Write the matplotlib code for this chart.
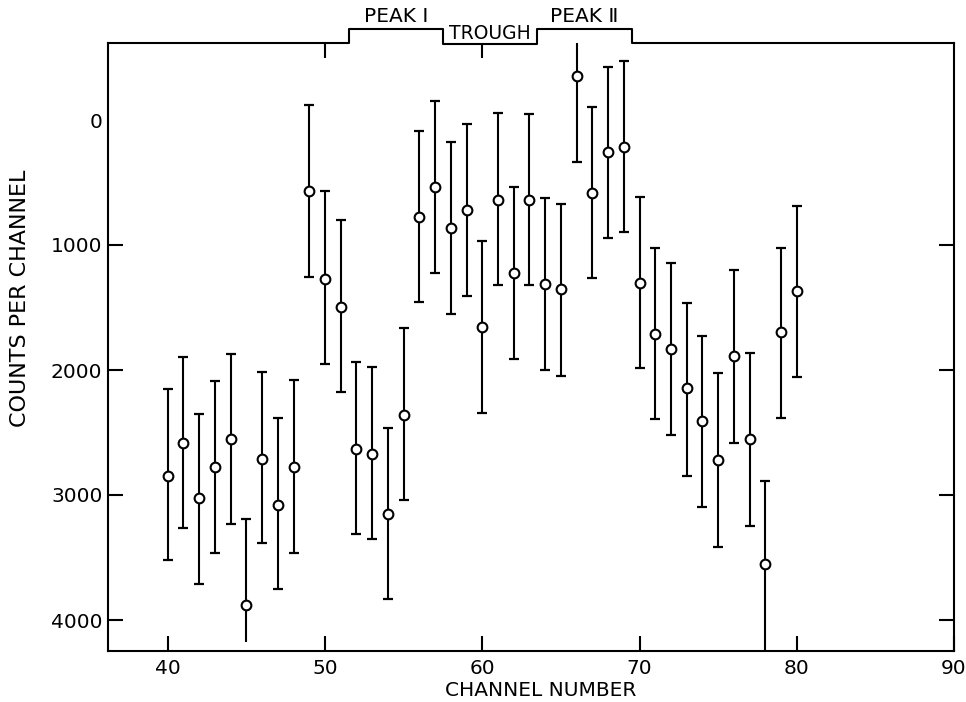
import matplotlib
matplotlib.use("Agg")
import matplotlib.pyplot as plt
import matplotlib.transforms as mtransforms

# -----------------------------
# Data
# -----------------------------
channels = list(range(40, 81))
counts = [2845, 2584, 3027, 2776, 2555, 3877, 2709, 3077, 2773, 568,
          1269, 1493, 2632, 2669, 3155, 2363, 779, 539, 867, 720,
          1653, 640, 1227, 640, 1315, 1352, -355, 587, 256, 213,
          1301, 1708, 1828, 2147, 2411, 2720, 1885, 2555, 3555, 1696,
          1368]
# upper end of each bar on the page (smaller value, axis is inverted)
err_top = [2152, 1899, 2352, 2091, 1869, 3192, 2016, 2387, 2077, -120,
           568, 800, 1933, 1973, 2461, 1667, 88, -155, 176, 35,
           968, -53, 536, -45, 627, 672, -645, -101, -421, -475,
           619, 1027, 1141, 1467, 1727, 2024, 1200, 1867, 2888, 1027,
           688]
err_bottom = [3520, 3267, 3712, 3461, 3235, 4173, 3381, 3755, 3467, 1253,
              1955, 2179, 3312, 3349, 3835, 3040, 1456, 1221, 1555, 1405,
              2341, 1320, 1915, 1320, 2000, 2045, 333, 1267, 947, 893,
              1987, 2392, 2520, 2845, 3093, 3413, 2581, 3245, 4240, 2381,
              2053]
# bars that run off the plot have no cap at that end
uncapped_top = [66]
uncapped_bottom = [45, 78]

region_edges = [51.5, 57.5, 63.5, 69.5]
region_names = ["PEAK \u2160", "TROUGH", "PEAK \u2161"]

x_ticks = [40, 50, 60, 70, 80, 90]
x_top_ticks = [50, 60]
y_ticks = [0, 1000, 2000, 3000, 4000]

# -----------------------------
# Figure
# -----------------------------
W, H = 966, 702
fig = plt.figure(figsize=(W / 100, H / 100), dpi=100)
ax = fig.add_axes([108 / W, 1 - 651 / H, (954 - 108) / W, (651 - 43) / H])

ax.vlines(channels, err_top, err_bottom, color="k", lw=1.5, zorder=2)

cap_x = [c for c in channels if c not in uncapped_top] + \
        [c for c in channels if c not in uncapped_bottom]
cap_y = [v for c, v in zip(channels, err_top) if c not in uncapped_top] + \
        [v for c, v in zip(channels, err_bottom) if c not in uncapped_bottom]
ax.plot(cap_x, cap_y, ls="none", marker="_", ms=7.5, mew=1.6, color="k",
        zorder=2)

ax.plot(channels, counts, ls="none", marker="o", ms=7, mew=1.5,
        mfc="white", mec="k", zorder=3)

ax.set_xlim(36.2, 90)
ax.set_ylim(4248, -616)

ax.set_xticks(x_ticks)
ax.set_yticks(y_ticks)
ax.tick_params(axis="both", direction="in", length=11, width=1.5,
               labelsize=14.5, right=True)
ax.tick_params(axis="x", pad=6)
ax.tick_params(axis="y", pad=4)
# no tick mark at zero, only the label
ax.yaxis.get_major_ticks()[0].tick1line.set_visible(False)
ax.yaxis.get_major_ticks()[0].tick2line.set_visible(False)

ax.spines["top"].set_visible(False)
for s in ["left", "right", "bottom"]:
    ax.spines[s].set_linewidth(1.5)

# top ticks only at 50 and 60
ax2 = ax.twiny()
ax2.set_xlim(ax.get_xlim())
ax2.set_xticks(x_top_ticks)
ax2.tick_params(axis="x", direction="in", length=11, width=1.5,
                labeltop=False)
for s in ax2.spines.values():
    s.set_visible(False)

# stepped top border marking the peak / trough windows
trans = mtransforms.blended_transform_factory(ax.transData, ax.transAxes)
x0, x1 = ax.get_xlim()
hi, low = 1.023, 0.998
step_x = [x0, region_edges[0], region_edges[0], region_edges[1],
          region_edges[1], region_edges[2], region_edges[2],
          region_edges[3], region_edges[3], x1]
step_y = [1, 1, hi, hi, low, low, hi, hi, 1, 1]
ax.plot(step_x, step_y, color="k", lw=1.5, transform=trans, clip_on=False)

label_y = [1.043, 1.016, 1.043]
label_size = [14.5, 13.5, 14.5]
for i, name in enumerate(region_names):
    mid = (region_edges[i] + region_edges[i + 1]) / 2
    ax.text(mid, label_y[i], name, transform=trans, ha="center",
            va="center", fontsize=label_size[i])

fig.text(541 / W, 1 - 690 / H, "CHANNEL NUMBER", ha="center",
         va="center", fontsize=14.5)
fig.text(20 / W, 1 - 298 / H, "COUNTS PER CHANNEL", ha="center",
         va="center", rotation=90, fontsize=16)

fig.savefig("out.png", dpi=100)
